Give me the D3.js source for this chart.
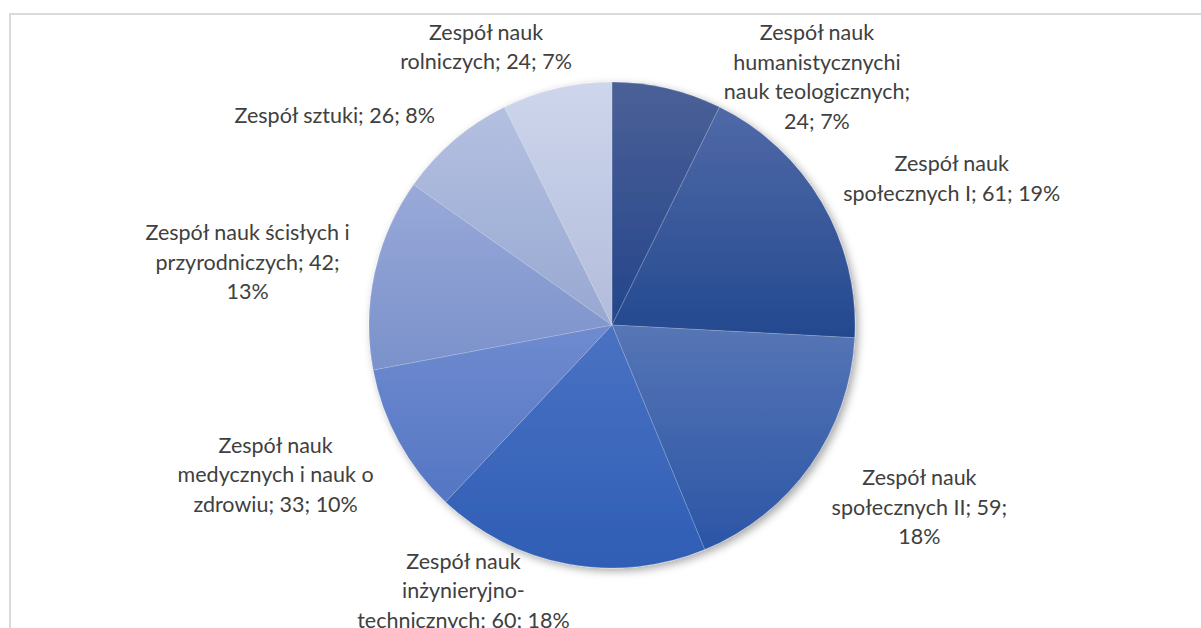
<!DOCTYPE html>
<html>
<head>
<meta charset="utf-8">
<script src="https://cdn.jsdelivr.net/npm/d3@7"></script>
<style>
  html, body { margin: 0; padding: 0; background: #fff; }
  svg { display: block; }
</style>
</head>
<body>
<div id="chart"></div>
<script>
// data
var categories = [
    "Zespół nauk humanistycznychi nauk teologicznych",
    "Zespół nauk społecznych I",
    "Zespół nauk społecznych II",
    "Zespół nauk inżynieryjno-technicznych",
    "Zespół nauk medycznych i nauk o zdrowiu",
    "Zespół nauk ścisłych i przyrodniczych",
    "Zespół sztuki",
    "Zespół nauk rolniczych"
];
var values = [24, 61, 59, 60, 33, 42, 26, 24];

// styling / layout (not data)
var topColors    = ["#4b6097", "#5069a7", "#5675b5", "#4a72c3", "#6f8bd0", "#99a9d9", "#b4c0e1", "#ced6ec"];
var bottomColors = ["#24458a", "#23498f", "#2b55a6", "#2f5eb5", "#5476c3", "#7a91ca", "#97a8d1", "#b2bcdb"];
// words per wrapped line of each data label
var lineWords = [[2, 1, 2, 2], [2, 4], [2, 3, 1], [2, 1, 3], [2, 4, 3], [4, 2, 1], [4], [2, 3]];
// shift of each label from the point at its slice's mid angle
var labelNudge = [[130, 74], [55, 21], [38, -8], [-89, -58], [-47, -8], [-42, 8], [-63, 42], [-51, 44]];

var width = 1201, height = 628;
var cx = 612, cy = 325, radius = 243, labelRadius = 330;
var fontSize = 21.5, lineHeight = 29.5;

var svg = d3.select("#chart").append("svg")
    .attr("width", width)
    .attr("height", height);

svg.append("rect").attr("width", width).attr("height", height).attr("fill", "#fff");

// chart area frame
svg.append("path")
    .attr("d", "M10," + (height + 10) + "V14H" + (width + 10))
    .attr("fill", "none")
    .attr("stroke", "#d9d9d9")
    .attr("stroke-width", 2);

var defs = svg.append("defs");

var shadow = defs.append("filter")
    .attr("id", "shadow")
    .attr("x", "-10%").attr("y", "-10%")
    .attr("width", "130%").attr("height", "130%");
shadow.append("feDropShadow")
    .attr("dx", 3).attr("dy", 3)
    .attr("stdDeviation", 4)
    .attr("flood-color", "#000")
    .attr("flood-opacity", 0.35);

var grads = defs.selectAll("linearGradient")
    .data(values)
    .enter().append("linearGradient")
    .attr("id", function(d, i) { return "g" + i; })
    .attr("x1", 0).attr("y1", 0).attr("x2", 0).attr("y2", 1);
grads.append("stop").attr("offset", "0%").attr("stop-color", function(d, i) { return topColors[i]; });
grads.append("stop").attr("offset", "100%").attr("stop-color", function(d, i) { return bottomColors[i]; });

var total = d3.sum(values);

var pie = d3.pie().sort(null).value(function(d) { return d; });
var arcs = pie(values);

var arc = d3.arc().innerRadius(0).outerRadius(radius);

var g = svg.append("g")
    .attr("transform", "translate(" + cx + "," + cy + ")");

g.append("g")
    .attr("filter", "url(#shadow)")
    .selectAll("path")
    .data(arcs)
    .enter().append("path")
    .attr("d", arc)
    .attr("fill", function(d, i) { return "url(#g" + i + ")"; })
    .attr("stroke", "rgba(255,255,255,0.22)")
    .attr("stroke-width", 0.75);

// data labels: "name; value; pct%"
function labelLines(i) {
    var pct = Math.round(values[i] / total * 100);
    var full = categories[i] + "; " + values[i] + "; " + pct + "%";
    var tokens = full.replace(/-/g, "- ").split(" ");
    var lines = [], k = 0;
    lineWords[i].forEach(function(n) {
        var words = tokens.slice(k, k + n);
        k += n;
        lines.push(words.join(" ").replace(/- /g, "-"));
    });
    return lines;
}

var labels = g.selectAll(".label")
    .data(arcs)
    .enter().append("text")
    .attr("class", "label")
    .attr("text-anchor", "middle")
    .attr("font-family", "Lato, 'Open Sans', sans-serif")
    .attr("font-size", fontSize)
    .attr("fill", "#404040")
    .attr("transform", function(d, i) {
        var mid = (d.startAngle + d.endAngle) / 2;
        var p = d3.pointRadial(mid, labelRadius);
        return "translate(" + (p[0] + labelNudge[i][0]) + "," + (p[1] + labelNudge[i][1]) + ")";
    });

labels.each(function(d, i) {
    var lines = labelLines(i);
    var start = -(lines.length - 1) / 2 * lineHeight;
    d3.select(this).selectAll("tspan")
        .data(lines)
        .enter().append("tspan")
        .attr("x", 0)
        .attr("y", function(t, j) { return start + j * lineHeight; })
        .attr("dy", "0.32em")
        .text(function(t) { return t; });
});
</script>
</body>
</html>
